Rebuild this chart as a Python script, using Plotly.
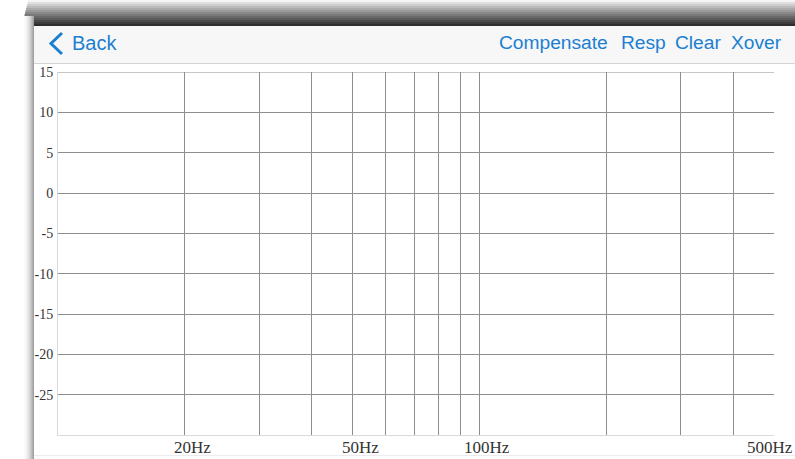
import math
import plotly.graph_objects as go

# frequency grid (Hz) and response grid (dB)
freq_range = [10, 500]
freq_grid = [20, 30, 40, 50, 60, 70, 80, 90, 100, 200, 300, 400, 500]
freq_labels = ["20Hz", "50Hz", "100Hz", "500Hz"]
freq_label_pos = [20, 50, 100, 500]
db_range = [-30, 15]
db_ticks = [15, 10, 5, 0, -5, -10, -15, -20, -25]

nav_left = "Back"
nav_right = ["Compensate", "Resp", "Clear", "Xover"]

W, H = 795, 459
L, R, T, B = 58, 774, 72, 435  # plot area in pixels
BLUE = "#1b7fd2"
GRID = "#8e8e8e"


def px(x):
    return (x - L) / (R - L)


def py(y):
    return (B - y) / (B - T)


def rect(x0, y0, x1, y1, color):
    return dict(type="rect", xref="paper", yref="paper",
                x0=px(x0), x1=px(x1), y0=py(y0), y1=py(y1),
                fillcolor=color, line=dict(width=0), layer="below")


shapes = []
# dark shadow band along the top
for i in range(13):
    g = int(245 - (245 - 45) * (i / 12) ** 0.9)
    shapes.append(rect(28 - i * 0.5, i * 2, W, i * 2 + 2, f"rgb({g},{g},{g})"))
# softer shadow on the left
for i in range(12):
    g = int(255 - (255 - 160) * (i / 11) ** 2)
    shapes.append(rect(22 + i, 16, 23 + i, H, f"rgb({g},{g},{g})"))
# card and nav bar
shapes.append(rect(34, 26, W, H, "white"))
shapes.append(rect(34, 26, W, 63, "#f7f7f7"))
shapes.append(rect(34, 63, W, 64, "#d4d4d4"))
shapes.append(rect(34, 455, W, 456, "#ececec"))
# back chevron
shapes.append(dict(type="path", xref="paper", yref="paper",
                   path=f"M {px(62)},{py(33)} L {px(51)},{py(43.5)} L {px(62)},{py(54)}",
                   line=dict(color=BLUE, width=3)))
# grid lines on the range edges (plotly skips those)
shapes.append(dict(type="line", xref="paper", yref="y", x0=0, x1=1,
                   y0=max(db_ticks), y1=max(db_ticks), line=dict(color=GRID, width=1.2)))
shapes.append(dict(type="line", xref="x", yref="paper",
                   x0=math.log10(max(freq_grid)), x1=math.log10(max(freq_grid)),
                   y0=0, y1=1, line=dict(color=GRID, width=1.2)))

annotations = [dict(text=nav_left, xref="paper", yref="paper", x=px(70), y=py(43),
                    xanchor="left", yanchor="middle", showarrow=False,
                    font=dict(family="Liberation Sans", size=20, color=BLUE))]
nav_x = [497, 619, 673, 729]
for label, x in zip(nav_right, nav_x):
    annotations.append(dict(text=label, xref="paper", yref="paper", x=px(x), y=py(43),
                            xanchor="left", yanchor="middle", showarrow=False,
                            font=dict(family="Liberation Sans", size=19.2, color=BLUE)))

# x tick labels sit a little to the right of their grid line
label_shift = [8, 8, 8, -4]
for label, f, s in zip(freq_labels, freq_label_pos, label_shift):
    annotations.append(dict(text=label, xref="x", yref="paper", x=math.log10(f), y=0,
                            xanchor="center", yanchor="top", xshift=s, yshift=-1,
                            showarrow=False,
                            font=dict(family="Liberation Serif", size=17, color="#333")))

fig = go.Figure(go.Scatter(x=[], y=[], mode="lines"))

fig.update_layout(
    width=W, height=H, autosize=False,
    margin=dict(l=L, r=W - R, t=T, b=H - B),
    paper_bgcolor="white", plot_bgcolor="white",
    showlegend=False, template="none",
    shapes=shapes, annotations=annotations,
)
fig.update_xaxes(
    type="log", range=[math.log10(freq_range[0]), math.log10(freq_range[1])],
    tickvals=freq_grid, ticktext=[""] * len(freq_grid), ticks="",
    showgrid=True, gridcolor=GRID, gridwidth=1.2, zeroline=False,
    showline=True, linecolor="#dadada", linewidth=1, automargin=False,
)
fig.update_yaxes(
    range=db_range, tickvals=db_ticks, ticktext=[str(v) for v in db_ticks], ticks="",
    showgrid=True, gridcolor=GRID, gridwidth=1.2, zeroline=False,
    showline=True, linecolor="#dadada", linewidth=1, automargin=False,
    tickfont=dict(family="Liberation Serif", size=14, color="#333"),
    ticklabelstandoff=1,
)

fig.write_html("out.html", config={"displayModeBar": False},
               post_script="document.body.style.margin='0';document.body.style.overflow='hidden';")
